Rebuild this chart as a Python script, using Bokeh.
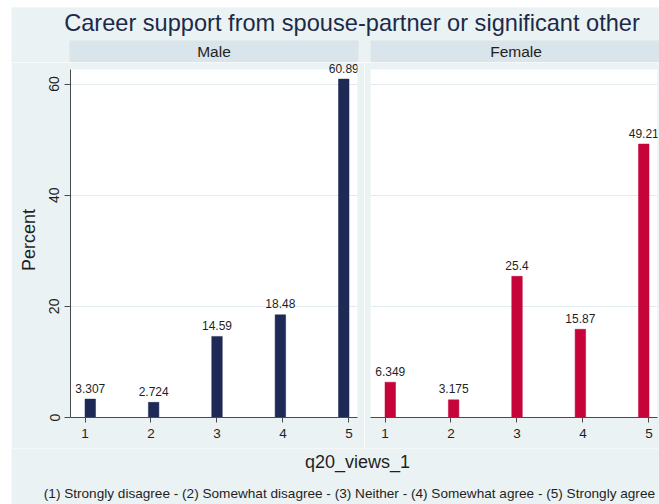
from bokeh.plotting import figure
from bokeh.models import (Range1d, LinearAxis, FixedTicker, Label, LabelSet,
                          BoxAnnotation, Spacer, ColumnDataSource)
from bokeh.layouts import column, row
from bokeh.embed import file_html
from bokeh.resources import INLINE
from bokeh.core.properties import value

# ---------------- data ----------------
categories = [1, 2, 3, 4, 5]
male_pct = [3.307, 2.724, 14.59, 18.48, 60.89]
female_pct = [6.349, 3.175, 25.4, 15.87, 49.21]
male_labels = ["3.307", "2.724", "14.59", "18.48", "60.89"]
female_labels = ["6.349", "3.175", "25.4", "15.87", "49.21"]
x_ticks = [1, 2, 3, 4, 5]
y_ticks = [0, 20, 40, 60]
panel_names = ["Male", "Female"]
chart_title = "Career support from spouse-partner or significant other"
x_title = "q20_views_1"
y_title = "Percent"
note_text = ("(1) Strongly disagree - (2) Somewhat disagree - (3) Neither - "
             "(4) Somewhat agree - (5) Strongly agree")

# ---------------- style ----------------
FONT = "Liberation Sans"
BG = "#EAF2F3"
STRIP = "#D9E5EB"
GRID = "#E2ECEF"
AXIS = "#4a4a4a"
TXT = "#1f1f1f"
TITLE_C = "#1c2a4a"
MALE_C = "#1E2A55"
FEMALE_C = "#C5053A"

PANEL_H = 386
Y_VIEW_TOP = 63.88      # top of the frame (light band above plot region)
Y_PLOT_TOP = 62.62      # top of the white plot region


def drop_title(p):
    try:
        p.title = None
    except Exception:
        p.title.visible = False


def make_panel(vals, labels, color, width, b_left, b_right, show_y):
    p = figure(width=width, height=PANEL_H,
               x_range=Range1d(0.688, 5.217), y_range=Range1d(0, Y_VIEW_TOP),
               output_backend="svg", toolbar_location=None,
               x_axis_location=None,
               y_axis_location="left" if show_y else None,
               min_border_left=b_left, min_border_right=b_right,
               min_border_top=0, min_border_bottom=31,
               background_fill_color=BG, border_fill_color=BG,
               outline_line_color=None)
    drop_title(p)
    # white plot region
    p.add_layout(BoxAnnotation(top=Y_PLOT_TOP, fill_color="white",
                               fill_alpha=1, line_color=None, level="image"))
    p.extra_x_ranges = {"ax": Range1d(0.78, 5.13)}
    xa = LinearAxis(x_range_name="ax", ticker=FixedTicker(ticks=x_ticks))
    xa.major_tick_out = 5
    xa.major_tick_in = 0
    xa.minor_tick_out = 0
    xa.minor_tick_in = 0
    xa.axis_line_color = AXIS
    xa.major_tick_line_color = AXIS
    xa.major_label_text_font = FONT
    xa.major_label_text_font_size = "13.5px"
    xa.major_label_text_color = TXT
    xa.major_label_standoff = 6
    p.add_layout(xa, "below")

    p.xgrid.visible = False
    p.ygrid.ticker = FixedTicker(ticks=y_ticks)
    p.ygrid.grid_line_color = GRID
    p.ygrid.grid_line_width = 1

    if show_y:
        ya = p.yaxis[0]
        ya.ticker = FixedTicker(ticks=y_ticks)
        ya.bounds = (0, Y_PLOT_TOP)
        ya.major_label_orientation = "vertical"
        ya.major_tick_out = 6
        ya.major_tick_in = 0
        ya.minor_tick_out = 0
        ya.minor_tick_in = 0
        ya.axis_line_color = AXIS
        ya.major_tick_line_color = AXIS
        ya.major_label_text_font = FONT
        ya.major_label_text_font_size = "14px"
        ya.major_label_text_color = TXT
        ya.major_label_standoff = 5
        ya.axis_label = y_title
        ya.axis_label_text_font = FONT
        ya.axis_label_text_font_size = "18px"
        ya.axis_label_text_font_style = "normal"
        ya.axis_label_text_color = TXT
        ya.axis_label_standoff = 8

    src = ColumnDataSource(dict(x=categories, top=vals, lab=labels))
    p.vbar(x="x", top="top", width=0.166, source=src, fill_color=color,
           line_color=color, line_width=0.5)
    p.add_layout(LabelSet(x="x", y="top", text="lab", source=src,
                          text_align="center", text_baseline="middle",
                          y_offset=11, text_font=value(FONT),
                          text_font_size="12px", text_color=TXT))
    return p


def blank(width, height, y0, y1):
    p = figure(width=width, height=height, x_range=Range1d(11, 659),
               y_range=Range1d(y1, y0), output_backend="svg",
               toolbar_location=None, x_axis_location=None,
               y_axis_location=None, min_border=0,
               min_border_left=0, min_border_right=0,
               min_border_top=0, min_border_bottom=0,
               background_fill_color=BG, border_fill_color=BG,
               outline_line_color=None)
    drop_title(p)
    p.grid.visible = False
    return p


# header: title + strip labels (page coordinates x 11..659, y 7..62)
hdr = blank(648, 55, 7, 62)
hdr.add_layout(Label(x=351.5, y=22.5, text=chart_title, text_align="center",
                     text_baseline="middle", text_font=FONT,
                     text_font_size="23.6px", text_color=TITLE_C))
hdr.add_layout(BoxAnnotation(left=69, right=358, top=40, bottom=62,
                             fill_color=STRIP, fill_alpha=1, line_color=None))
hdr.add_layout(BoxAnnotation(left=370, right=662, top=40, bottom=62,
                             fill_color=STRIP, fill_alpha=1, line_color=None))
hdr.add_layout(Label(x=213.5, y=51, text=panel_names[0], text_align="center",
                     text_baseline="middle", text_font=FONT,
                     text_font_size="15.5px", text_color=TXT))
hdr.add_layout(Label(x=515.5, y=51, text=panel_names[1], text_align="center",
                     text_baseline="middle", text_font=FONT,
                     text_font_size="15.5px", text_color=TXT))

male = make_panel(male_pct, male_labels, MALE_C, 353, 59, 7, True)
female = make_panel(female_pct, female_labels, FEMALE_C, 295, 6, 2, False)

# footer: x title and note (page coordinates y 448..504)
ftr = blank(648, 56, 448, 504)
ftr.add_layout(Label(x=357, y=461, text=x_title, text_align="center",
                     text_baseline="middle", text_font=FONT,
                     text_font_size="18px", text_color=TXT))
ftr.add_layout(Label(x=43.3, y=492.5, text=note_text, text_align="left",
                     text_baseline="middle", text_font=FONT,
                     text_font_size="13.6px", text_color=TXT))

layout = row(Spacer(width=11, height=504),
             column(Spacer(width=648, height=7), hdr, row(male, female), ftr))

open("out.html", "w").write(file_html(layout, INLINE))
